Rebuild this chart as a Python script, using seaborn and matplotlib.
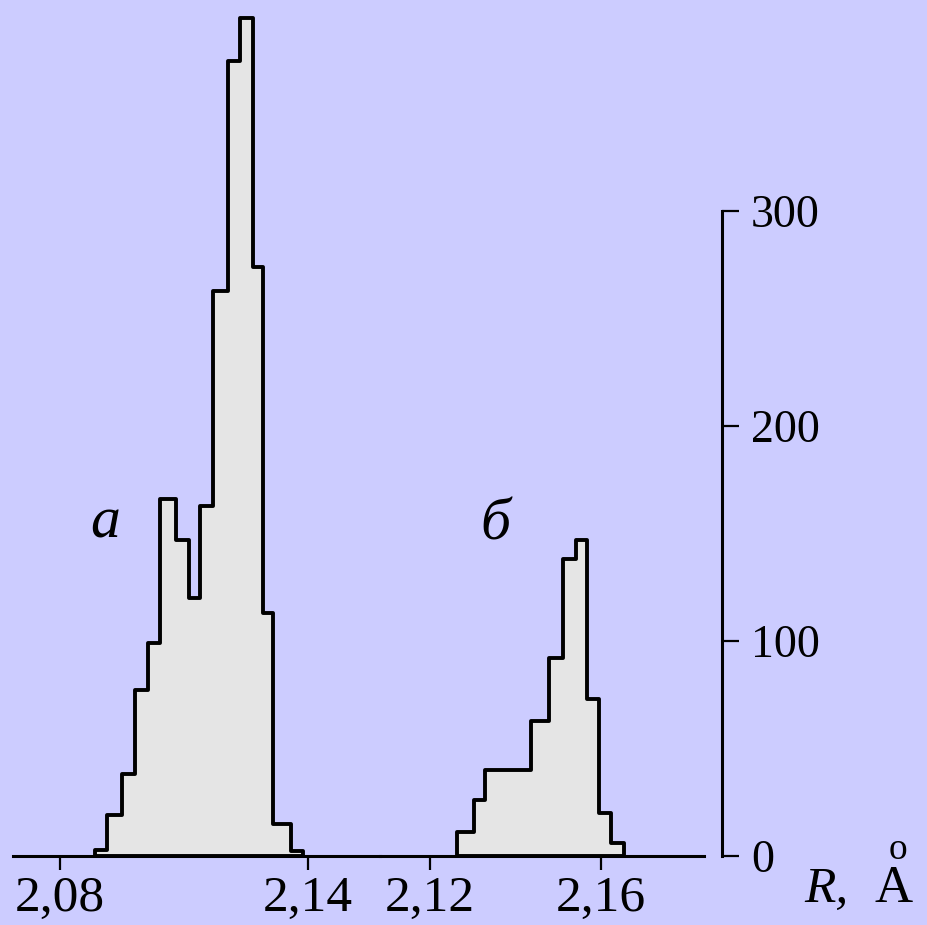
import numpy as np
import pandas as pd
import matplotlib
matplotlib.use("Agg")
import matplotlib.pyplot as plt
import seaborn as sns

# Distribution "а": bin edges (Å) and counts
edges_a = [2.0885, 2.0914, 2.0950, 2.0981, 2.1013, 2.1042, 2.1081, 2.1112,
           2.1139, 2.1170, 2.1206, 2.1235, 2.1267, 2.1291, 2.1315, 2.1359, 2.1388]
counts_a = [3, 19, 38, 77, 99, 166, 147, 120, 163, 263, 370, 390, 274, 113, 15, 2.3]

# Distribution "б": bin edges (Å) and counts
edges_b = [2.1263, 2.1303, 2.1329, 2.1436, 2.1478, 2.1511, 2.1542,
           2.1567, 2.1595, 2.1623, 2.1654]
counts_b = [11, 26, 40, 63, 92, 138, 147, 73, 20, 6]

xticks_a = [2.08, 2.14]
xticklabels_a = ["2,08", "2,14"]
xticks_b = [2.12, 2.16]
xticklabels_b = ["2,12", "2,16"]
yticks = [0, 100, 200, 300]
yticklabels = ["0", "100", "200", "300"]

BG = "#CCCCFF"
FILL = "#E5E5E5"

sns.set_theme(style="white")
plt.rcParams["font.family"] = ["Liberation Serif", "DejaVu Serif"]
for key in ("text.color", "axes.labelcolor", "xtick.color", "ytick.color"):
    plt.rcParams[key] = "black"

W, H = 928, 925
fig = plt.figure(figsize=(W / 100, H / 100), dpi=100)
fig.patch.set_facecolor(BG)

base_px = 856          # pixel row of the zero line
px_per_unit = 2.15     # vertical pixels per count
split_px = 380         # where the two R-scales meet
ymax = base_px / px_per_unit

ax1 = fig.add_axes([13 / W, (H - base_px) / H, (split_px - 13) / W, base_px / H])
ax2 = fig.add_axes([split_px / W, (H - base_px) / H, (722 - split_px) / W, base_px / H])

def centers(e):
    e = np.asarray(e)
    return (e[:-1] + e[1:]) / 2

df_a = pd.DataFrame({"R": centers(edges_a), "n": counts_a})
df_b = pd.DataFrame({"R": centers(edges_b), "n": counts_b})

hist_kw = dict(element="step", fill=True, stat="count", color=FILL,
               edgecolor="black", linewidth=2.8, alpha=1)
sns.histplot(data=df_a, x="R", weights="n", bins=edges_a, ax=ax1, **hist_kw)
sns.histplot(data=df_b, x="R", weights="n", bins=edges_b, ax=ax2, **hist_kw)

ax1.set_xlim(2.06863, 2.15742)
ax2.set_xlim(2.10830, 2.18830)
for ax in (ax1, ax2):
    ax.set_ylim(0, ymax)
    ax.set_facecolor("none")
    ax.set_xlabel("")
    ax.set_ylabel("")
    ax.spines["top"].set_visible(False)
    ax.spines["left"].set_visible(False)
    ax.spines["bottom"].set_linewidth(2.2)
    ax.spines["bottom"].set_color("black")
    ax.tick_params(axis="x", which="both", direction="out", length=10, width=1.6,
                   color="black", labelsize=37, pad=4, bottom=True, top=False)
    ax.tick_params(axis="x", which="minor", bottom=False)
    ax.grid(False)

ax1.spines["right"].set_visible(False)
ax1.tick_params(axis="y", which="both", left=False, right=False,
                labelleft=False, labelright=False)
ax1.set_xticks(xticks_a)
ax1.set_xticklabels(xticklabels_a)

ax2.set_xticks(xticks_b)
ax2.set_xticklabels(xticklabels_b)
ax2.spines["bottom"].set_bounds(2.10830, 2.18409)
ax2.spines["right"].set_visible(True)
ax2.spines["right"].set_color("black")
ax2.spines["right"].set_linewidth(2.2)
ax2.spines["right"].set_bounds(0, 300)
ax2.yaxis.tick_right()
ax2.set_yticks(yticks)
ax2.set_yticklabels(yticklabels)
ax2.tick_params(axis="y", direction="out", length=12, width=1.6, color="black",
                labelsize=33, pad=9, right=True, left=False)

# Panel letters
ax1.text(2.0910, 148, "а", fontsize=43, style="italic", ha="center", va="baseline")
ax2.text(2.1352, 147, "б", fontsize=43, style="italic", ha="center", va="baseline")

# Axis label R, Å
fig.text(804 / W, (H - 902) / H, "R,", fontsize=37, style="italic",
         ha="left", va="baseline")
fig.text(894 / W, (H - 902) / H, "A", fontsize=38, ha="center", va="baseline")
fig.text(898 / W, (H - 850) / H, "o", fontsize=27, ha="center", va="center")

fig.savefig("out.png", dpi=100, facecolor=BG)
